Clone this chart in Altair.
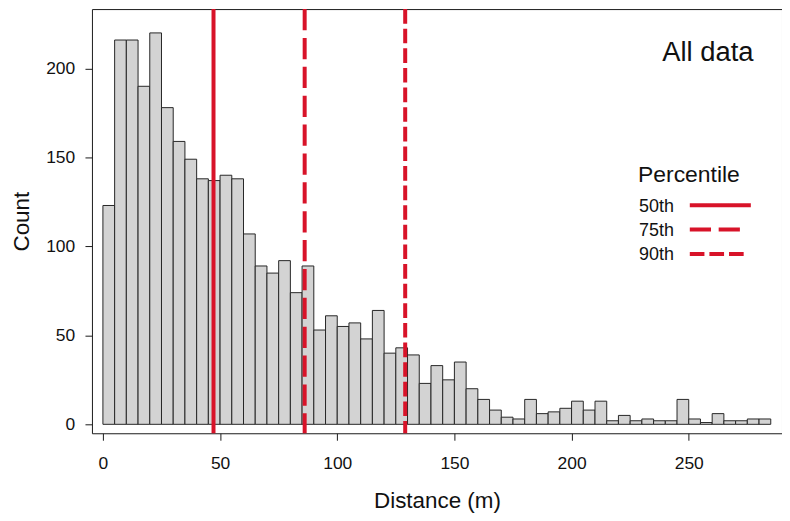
import altair as alt
import pandas as pd

# ---- data ----
bin_width = 5
bin_starts = list(range(0, 285, bin_width))
counts = [123, 216, 216, 190, 220, 178, 159, 149, 138, 137, 140, 138, 107, 89, 85,
          92, 74, 89, 53, 61, 55, 57, 48, 64, 40, 43, 39, 23, 33,
          25, 35, 20, 14, 8, 4, 3, 14, 6, 7, 9, 13, 8, 13,
          2, 5, 2, 3, 2, 2, 14, 3, 1, 6, 2, 2, 3, 3]
pct_labels = ["50th", "75th", "90th"]
pct_values = [47.2, 86.1, 129.0]
pct_dashes = [[1, 0], [21.3, 7.7], [14.7, 5]]
x_ticks = [0, 50, 100, 150, 200, 250]
y_ticks = [0, 50, 100, 150, 200]
panel_label = "All data"
legend_title = "Percentile"

RED = "#D81329"
FONT = "Liberation Sans"
INK = "#111111"

hist = pd.DataFrame({
    "start": bin_starts,
    "end": [s + bin_width for s in bin_starts],
    "count": counts,
})
pct = pd.DataFrame({"label": pct_labels, "value": pct_values})
one = pd.DataFrame({"k": [0]})

xscale = alt.Scale(domain=[-4.68, 289.8], nice=False, zero=False)
yscale = alt.Scale(domain=[-5.03, 233.4], nice=False, zero=False)

bars = alt.Chart(hist).mark_rect(
    fill="#D3D3D3", stroke="#262626", strokeWidth=1
).encode(
    x=alt.X("start:Q", scale=xscale,
            axis=alt.Axis(values=x_ticks, title="Distance (m)", labelPadding=14,
                          titlePadding=18)),
    x2="end:Q",
    y=alt.Y("count:Q", scale=yscale,
            axis=alt.Axis(values=y_ticks, title="Count", labelAngle=0,
                          labelPadding=10.3, titlePadding=12)),
    y2=alt.datum(0),
)

rules = alt.Chart(pct).mark_rule(
    color=RED, strokeWidth=4, strokeCap="butt"
).encode(
    x=alt.X("value:Q", scale=xscale),
    strokeDash=alt.StrokeDash(
        "label:N",
        scale=alt.Scale(domain=pct_labels, range=pct_dashes),
        legend=None,
    ),
)

layers = [bars, rules]

# panel annotation
layers.append(alt.Chart(one).mark_text(
    align="right", baseline="middle", fontSize=27.5, font=FONT, color=INK,
    text=panel_label,
).encode(x=alt.value(664.4), y=alt.value(44.3)))

# legend (drawn as a guide in the upper right of the panel)
LEG_LEFT = 548.4
SYM_LEFT = 600.4
layers.append(alt.Chart(one).mark_text(
    align="left", baseline="alphabetic", fontSize=23, font=FONT, color=INK,
    text=legend_title,
).encode(x=alt.value(LEG_LEFT), y=alt.value(173.7)))

row_y = [197.0, 221.3, 246.0]
sym_len = [61.3, 50.3, 55.6]
for lbl, dash, ry, ln in zip(pct_labels, pct_dashes, row_y, sym_len):
    layers.append(alt.Chart(one).mark_text(
        align="left", baseline="alphabetic", fontSize=18, font=FONT, color=INK,
        text=lbl,
    ).encode(x=alt.value(LEG_LEFT + 1), y=alt.value(ry + 6.4)))
    layers.append(alt.Chart(one).mark_rule(
        color=RED, strokeWidth=4, strokeCap="butt", strokeDash=dash,
    ).encode(x=alt.value(SYM_LEFT), x2=alt.value(SYM_LEFT + ln), y=alt.value(ry)))

chart = alt.layer(*layers).properties(
    width=693, height=426,
    padding={"left": 84.3, "top": 0, "right": 0, "bottom": 79},
    autosize=alt.AutoSizeParams(type="none"),
).configure_view(
    stroke="#1a1a1a", strokeWidth=1
).configure_axis(
    domain=False, grid=False, tickSize=7, tickColor="#1a1a1a", tickWidth=1,
    labelFontSize=17.5, labelFont=FONT, labelColor=INK, labelFlush=False,
    titleFontSize=22.5, titleFont=FONT, titleFontWeight="normal",
    titleColor=INK,
)

chart.save("out.html", embed_options={"renderer": "svg", "actions": False})
